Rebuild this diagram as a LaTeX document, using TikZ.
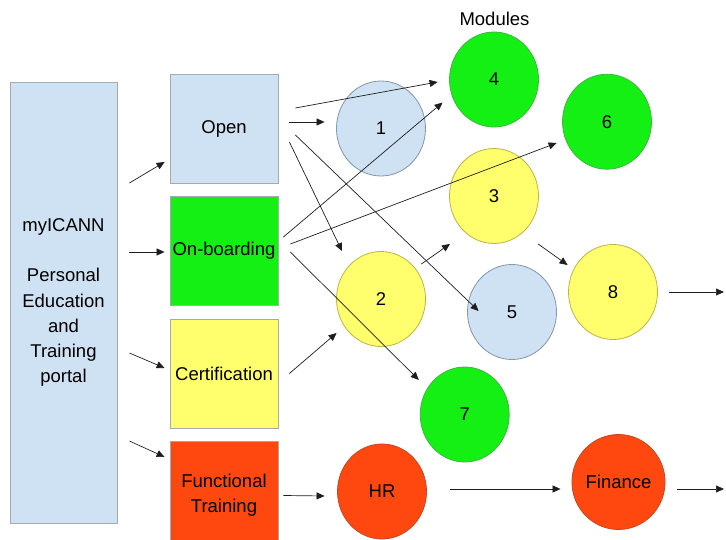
\documentclass[tikz,border=0pt]{standalone}
\usepackage{fontspec}
\setmainfont{Liberation Sans}
\usetikzlibrary{arrows.meta}
\usetikzlibrary{shapes.geometric}
\usepackage{xcolor}
\definecolor{pblue}{RGB}{207,226,243}
\definecolor{pgreen}{RGB}{20,240,20}
\definecolor{pyellow}{RGB}{255,255,110}
\definecolor{pred}{RGB}{255,72,16}
\definecolor{boxline}{RGB}{165,170,175}
\definecolor{blueline}{RGB}{130,150,170}
\definecolor{greenline}{RGB}{60,185,60}
\definecolor{yellowline}{RGB}{190,180,70}
\definecolor{redline}{RGB}{200,70,30}
\definecolor{connline}{RGB}{30,30,30}

\begin{document}
\begin{tikzpicture}[x=1pt,y=-1pt,
  font=\fontsize{18.5}{25.2}\selectfont,
  pbox/.style={draw=boxline,line width=0.8pt,minimum width=108pt,minimum height=109pt,inner sep=0pt,align=center},
  mcirc/.style={ellipse,line width=0.8pt,minimum width=89pt,minimum height=95pt,inner sep=0pt},
  conn/.style={-{Triangle[length=8pt,width=7pt]},line width=0.7pt,color=connline}]
\useasboundingbox (0,0) rectangle (726,540);
\clip (0,0) rectangle (726,540);

%Shape: Rectangle [portal]
\node [pbox,fill=pblue,minimum width=107pt,minimum height=441pt] (portal) at (63.5,302.5) {myICANN\\[25.2pt]Personal\\Education\\and\\Training\\portal};
%Shape: Rectangle [tracks]
\node [pbox,fill=pblue] (open) at (224,128.5) {Open};
\node [pbox,fill=pgreen] (onb) at (224,251) {On-boarding};
\node [pbox,fill=pyellow] (cert) at (224,373.5) {Certification};
\node [pbox,fill=pred] (func) at (224,495.5) {Functional\\Training};

%Shape: Circle [modules]
\node [mcirc,draw=blueline,fill=pblue] (c1) at (381,128.5) {1};
\node [mcirc,draw=yellowline,fill=pyellow] (c2) at (381,299) {2};
\node [mcirc,draw=yellowline,fill=pyellow] (c3) at (494,196) {3};
\node [mcirc,draw=greenline,fill=pgreen] (c4) at (494,79.5) {4};
\node [mcirc,draw=blueline,fill=pblue] (c5) at (512,312) {5};
\node [mcirc,draw=greenline,fill=pgreen] (c6) at (607,121.7) {6};
\node [mcirc,draw=greenline,fill=pgreen] (c7) at (464.7,414.5) {7};
\node [mcirc,draw=yellowline,fill=pyellow] (c8) at (613,292) {8};
\node [mcirc,draw=redline,fill=pred] (hr) at (382,491.5) {HR};
\node [mcirc,draw=redline,fill=pred] (fin) at (618.5,482) {Finance};

% Text Node
\node (modules) at (494.5,19) {Modules};

\coordinate (out8) at (724,292);
\coordinate (outfin) at (724,489);

%Straight Lines [portal to tracks]
\draw [conn] ([xshift=12pt,yshift=119.5pt]portal.east) -- ([xshift=-5pt,yshift=-33.5pt]open.west);
\draw [conn] ([xshift=12pt,yshift=50.5pt]portal.east) -- ([xshift=-5pt,yshift=-1pt]onb.west);
\draw [conn] ([xshift=12pt,yshift=-50.5pt]portal.east) -- ([xshift=-5pt,yshift=5.5pt]cert.west);
\draw [conn] ([xshift=12pt,yshift=-138.5pt]portal.east) -- ([xshift=-5pt,yshift=38.5pt]func.west);
%Straight Lines [open]
\draw [conn] ([xshift=17pt,yshift=20.5pt]open.east) -- ([xshift=-11.5pt,yshift=-2.5pt]c4.west);
\draw [conn] ([xshift=11pt,yshift=6.5pt]open.east) -- ([xshift=-11.5pt,yshift=6.5pt]c1.west);
\draw [conn] ([xshift=11pt,yshift=-13.5pt]open.east) -- ([xshift=-39pt]c2.north);
\draw [conn] ([xshift=17pt,yshift=-6.5pt]open.east) -- ([xshift=11.5pt,yshift=1pt]c5.west);
%Straight Lines [on-boarding]
\draw [conn] ([xshift=5pt,yshift=14pt]onb.east) -- ([xshift=-6.5pt,yshift=-23pt]c4.west);
\draw [conn] ([xshift=12pt,yshift=7pt]onb.east) -- ([xshift=-5.5pt,yshift=-21.3pt]c6.west);
\draw [conn] ([xshift=12pt,yshift=-1pt]onb.east) -- ([xshift=-1pt,yshift=34.5pt]c7.west);
%Straight Lines [certification]
\draw [conn] ([xshift=11pt]cert.east) -- ([xshift=0.5pt,yshift=-34pt]c2.west);
\draw [conn] ([xshift=-4.5pt,yshift=35pt]c2.east) -- ([xshift=-44pt]c3.south);
\draw [conn] ([xshift=44pt]c3.south) -- ([xshift=-0.5pt,yshift=27pt]c8.west);
\draw [conn] ([xshift=11.5pt]c8.east) -- (out8);
%Straight Lines [functional]
\draw [conn] ([xshift=5pt]func.east) -- ([xshift=-12.5pt,yshift=-4.5pt]hr.west);
\draw [conn] ([xshift=23.5pt,yshift=2.5pt]hr.east) -- ([xshift=-11pt,yshift=-7pt]fin.west);
\draw [conn] ([xshift=12pt,yshift=-7pt]fin.east) -- (outfin);

\end{tikzpicture}
\end{document}
